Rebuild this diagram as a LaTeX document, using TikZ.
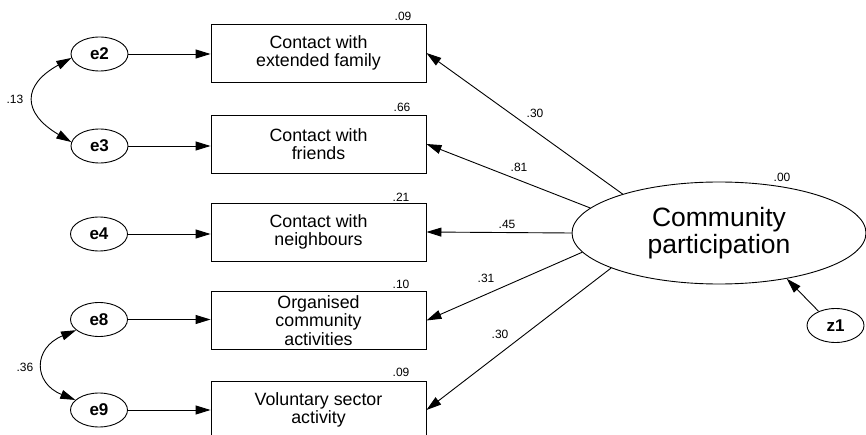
\documentclass[tikz,border=0pt]{standalone}
\usepackage{fontspec}
\setmainfont{Liberation Sans}
\usetikzlibrary{arrows.meta,shapes.geometric}
\begin{document}
\begin{tikzpicture}[x=1pt,y=-1pt,
  line width=0.9pt,
  tip/.style={-{Triangle[length=15pt,width=9pt]}},
  bothtips/.style={{Triangle[length=15pt,width=9pt]}-{Triangle[length=15pt,width=9pt]}},
  obs/.style={draw,rectangle,minimum width=215pt,minimum height=58pt,inner sep=0pt,
    align=center,font=\fontsize{17.8}{18.3}\selectfont},
  err/.style={draw,ellipse,minimum width=57pt,minimum height=34pt,inner sep=0pt,
    font=\fontsize{17}{18}\selectfont\bfseries},
  lat/.style={draw,ellipse,minimum width=294pt,minimum height=102pt,inner sep=0pt,
    align=center,font=\fontsize{26.5}{26.5}\selectfont},
  coef/.style={inner sep=0pt,font=\fontsize{12}{12}\selectfont}]
\clip (0,0) rectangle (866,435);
\fill[white] (0,0) rectangle (866,435);

% observed indicators
\node[obs] (b1) at (318.5,53)  {Contact with\\extended family};
\node[obs] (b2) at (318.5,144) {Contact with\\friends};
\node[obs] (b3) at (318.5,232) {Contact with\\neighbours};
\node[obs] (b4) at (318.5,320.5) {Organised\\community\\activities};
\node[obs] (b5) at (318.5,410) {Voluntary sector\\activity};

% error terms
\node[err] (e2) at (99.5,54)  {e2};
\node[err] (e3) at (99.5,146) {e3};
\node[err] (e4) at (99,234)   {e4};
\node[err] (e8) at (99,319.5) {e8};
\node[err] (e9) at (99,410)   {e9};

% latent factor and its disturbance
\node[lat] (cp) at (719,233) {Community\\participation};
\node[err] (z1) at (835.5,325.5) {z1};

% errors to indicators
\foreach \e/\b in {e2/b1,e3/b2,e4/b3,e8/b4,e9/b5}
  \draw[tip] (\e.east) -- (\e.east -| \b.west);

% loadings
\draw[tip] (cp.158.9) -- (b1.east);
\draw[tip] (cp.169.2) -- (b2.east);
\draw[tip] (cp.180)   -- (b3.east);
\draw[tip] (cp.188)   -- (b4.east);
\draw[tip] (cp.198.3) -- (b5.east);
\draw[tip] (z1.140) -- (cp.-34);

% error covariances
\draw[bothtips] (e2.188) .. controls (22,85) and (22,113) .. (e3.172);
\draw[bothtips] (e8.205) .. controls (33,348) and (33,383) .. (e9.157);

% coefficients
\node[coef] (l1) at (535,113) {.30};
\node[coef] (l2) at (519,167) {.81};
\node[coef] (l3) at (507,224) {.45};
\node[coef] (l4) at (486,278) {.31};
\node[coef] (l5) at (500,334) {.30};
\node[coef] (r0) at (782,177) {.00};
\node[coef] (r1) at (403,16)  {.09};
\node[coef] (r2) at (402,107) {.66};
\node[coef] (r3) at (401,197) {.21};
\node[coef] (r4) at (401,284) {.10};
\node[coef] (r5) at (401,372) {.09};
\node[coef] (c1) at (15,99)   {.13};
\node[coef] (c2) at (25,367)  {.36};
\end{tikzpicture}
\end{document}
